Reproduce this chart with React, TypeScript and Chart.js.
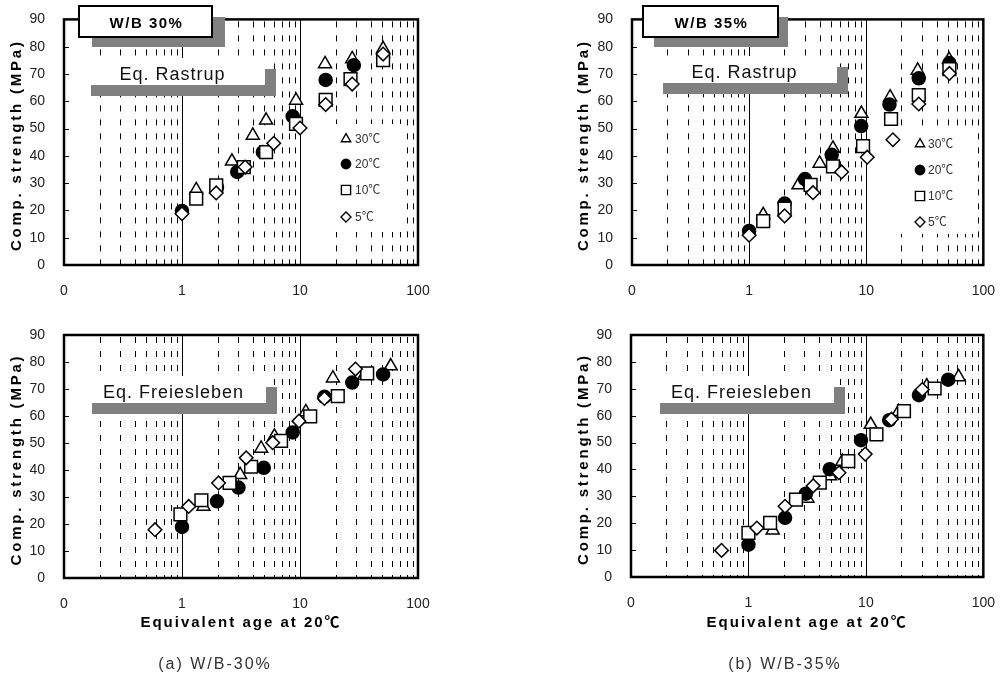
import React, { useEffect, useRef } from 'react';
import { Chart, registerables } from 'chart.js';
import { drawPoint } from 'chart.js/helpers';

Chart.register(...registerables);

const FONT = '"Liberation Sans", "Noto Sans CJK KR", "DejaVu Sans", sans-serif';

// ---------- axes ----------
const AGE_MIN = 0.1;
const AGE_MAX = 100;
const AGE_TICKS = [0.1, 1, 10, 100];
const AGE_TICK_LABELS = ['0', '1', '10', '100'];
const AGE_MINOR_LINES = [0.2, 0.3, 0.4, 0.5, 0.6, 0.7, 0.8, 0.9, 2, 3, 4, 5, 6, 7, 8, 9, 20, 30, 40, 50, 60, 70, 80, 90];
const AGE_MAJOR_LINES = [1, 10];
const STRENGTH_MIN = 0;
const STRENGTH_MAX = 90;
const STRENGTH_STEP = 10;

// ---------- texts ----------
const SERIES_LABELS = ['30℃', '20℃', '10℃', '5℃'];
const X_TITLE = 'Equivalent age at 20℃';
const Y_TITLE = 'Comp. strength (MPa)';
const WB_TAGS = ['W/B 30%', 'W/B 35%'];
const EQ_NAMES = ['Eq. Rastrup', 'Eq. Freiesleben'];
const CAPTIONS = ['(a) W/B-30%', '(b) W/B-35%'];

// ---------- data: [equivalent age, strength MPa] ----------
// W/B 30%, Rastrup
const R30_T30: [number, number][] = [[1.32, 27.5], [2.65, 38], [3.98, 47.5], [5.16, 53], [9.25, 60.3], [16.3, 73.7], [27.7, 75.5], [50.6, 79.2]];
const R30_T20: [number, number][] = [[1, 19.8], [1.98, 28.5], [2.94, 34.1], [4.84, 41.4], [8.67, 54.5], [16.5, 67.8], [28.6, 73.2], [50.6, 76]];
const R30_T10: [number, number][] = [[1.32, 24.3], [1.95, 29.2], [3.34, 35.9], [5.16, 41.4], [9.25, 51.7], [16.5, 60.5], [26.8, 68.1], [50.6, 75.1]];
const R30_T5: [number, number][] = [[1, 18.8], [1.95, 26.4], [3.43, 35.9], [5.99, 44.6], [10, 50.2], [16.5, 58.8], [27.7, 66.3], [50.6, 77.3]];
// W/B 35%, Rastrup
const R35_T30: [number, number][] = [[1.32, 18.4], [2.64, 29.3], [4.0, 37.2], [5.2, 42.7], [9.1, 55.5], [16, 61.5], [27.5, 71.3], [51, 75.3]];
const R35_T20: [number, number][] = [[1, 12.5], [2.01, 22.5], [3.0, 31.5], [5.07, 40.4], [9.06, 50.9], [15.8, 58.8], [28.1, 68.4], [51.3, 74]];
const R35_T10: [number, number][] = [[1.32, 16.1], [2.01, 20.7], [3.35, 29.4], [5.2, 36.1], [9.4, 43.6], [16.3, 53.5], [28.1, 62.3], [51.3, 71.8]];
const R35_T5: [number, number][] = [[1, 10.9], [2.01, 18], [3.51, 26.5], [6.16, 34.1], [10.2, 39.5], [16.9, 45.9], [28.1, 59], [51.3, 70.2]];
// W/B 30%, Freiesleben
const F30_T30: [number, number][] = [[1.52, 26.5], [3.11, 38.2], [4.68, 48], [6.07, 52.5], [11.2, 61.5], [19, 74], [35, 75], [58.7, 78.5]];
const F30_T20: [number, number][] = [[1, 18.9], [1.98, 28.4], [3.01, 33.5], [4.93, 40.8], [8.67, 53.9], [16.1, 67.1], [27.7, 72.4], [50.6, 75.4]];
const F30_T10: [number, number][] = [[0.97, 23.6], [1.46, 28.8], [2.53, 35.2], [3.85, 41.2], [6.91, 50.8], [12.2, 59.9], [20.9, 67.4], [37.1, 75.8]];
const F30_T5: [number, number][] = [[0.59, 17.9], [1.14, 26.5], [2.04, 35.2], [3.5, 44.5], [5.87, 50.1], [9.8, 58.1], [16.1, 66.5], [29.5, 77.4]];
// W/B 35%, Freiesleben
const F35_T30: [number, number][] = [[1.61, 17.4], [3.18, 29.2], [4.95, 37.6], [6.3, 43], [11, 56.7], [19, 61.5], [33, 71], [61.6, 74.4]];
const F35_T20: [number, number][] = [[1, 12], [2.05, 22], [3.08, 31], [4.92, 40.1], [9.08, 50.9], [15.8, 58.3], [28.3, 67.6], [50.2, 73.4]];
const F35_T10: [number, number][] = [[1.0, 16.4], [1.53, 20.1], [2.54, 28.8], [4.05, 35.1], [7.08, 43.1], [12.3, 53], [21.1, 61.7], [38.5, 70.1]];
const F35_T5: [number, number][] = [[0.59, 9.9], [1.18, 18.2], [2.05, 26.3], [3.56, 33.9], [5.9, 38.8], [9.87, 45.7], [16.5, 58.7], [30.2, 69.7]];

// ---------- styles ----------
const SERIES_STYLES = [
  { pointStyle: 'triangle', radius: 7.5, fill: '#ffffff', legendRadius: 5.4, order: 4 },
  { pointStyle: 'circle', radius: 6.5, fill: '#000000', legendRadius: 4.7, order: 3 },
  { pointStyle: 'rect', radius: 9, fill: '#ffffff', legendRadius: 6.5, order: 2 },
  { pointStyle: 'rectRot', radius: 6.8, fill: '#ffffff', legendRadius: 5, order: 1 },
];

type Rect = { l: number; t: number; r: number; b: number };
type PanelSpec = {
  key: string;
  canvas: { left: number; top: number; w: number; h: number };
  area: Rect;
  series: [number, number][][];
  eq: Rect & { text: string; tx: number; ty: number };
  wb?: Rect & { text: string; shadow: Rect; ty: number };
  legend?: { box: Rect; mx: number; tx: number; rows: number[] };
  yTitleX: number;
  xTitleY?: number;
  caption?: { text: string; x: number; y: number };
};

const PANELS: PanelSpec[] = [
  {
    key: 'p1',
    canvas: { left: 0, top: 0, w: 500, h: 312 },
    area: { l: 64, t: 18, r: 418, b: 265 },
    series: [R30_T30, R30_T20, R30_T10, R30_T5],
    eq: { text: EQ_NAMES[0], l: 80, t: 58, r: 265, b: 85, tx: 172.5, ty: 80 },
    wb: { text: WB_TAGS[0], l: 79, t: 6, r: 212, b: 37, shadow: { l: 92, t: 17, r: 225, b: 47 }, ty: 28 },
    legend: { box: { l: 330, t: 124, r: 403, b: 232 }, mx: 346, tx: 355, rows: [139, 164, 190, 217] },
    yTitleX: 17,
  },
  {
    key: 'p2',
    canvas: { left: 568, top: 0, w: 437, h: 312 },
    area: { l: 632, t: 18, r: 985, b: 265 },
    series: [R35_T30, R35_T20, R35_T10, R35_T5],
    eq: { text: EQ_NAMES[0], l: 652, t: 56, r: 837, b: 83, tx: 744.5, ty: 78 },
    wb: { text: WB_TAGS[1], l: 643, t: 6, r: 778, b: 37, shadow: { l: 654, t: 17, r: 788, b: 47 }, ty: 28 },
    legend: { box: { l: 898, t: 128, r: 974, b: 234 }, mx: 920, tx: 928, rows: [144, 170, 196, 222] },
    yTitleX: 584,
  },
  {
    key: 'p3',
    canvas: { left: 0, top: 312, w: 500, h: 362 },
    area: { l: 64, t: 335, r: 418, b: 578 },
    series: [F30_T30, F30_T20, F30_T10, F30_T5],
    eq: { text: EQ_NAMES[1], l: 81, t: 376, r: 266, b: 403, tx: 173.5, ty: 398 },
    yTitleX: 17,
    xTitleY: 627,
    caption: { text: CAPTIONS[0], x: 215, y: 669 },
  },
  {
    key: 'p4',
    canvas: { left: 568, top: 312, w: 437, h: 362 },
    area: { l: 631, t: 335, r: 986, b: 577 },
    series: [F35_T30, F35_T20, F35_T10, F35_T5],
    eq: { text: EQ_NAMES[1], l: 649, t: 376, r: 834, b: 403, tx: 741.5, ty: 398 },
    yTitleX: 584,
    xTitleY: 627,
    caption: { text: CAPTIONS[1], x: 785, y: 669 },
  },
];

function decorPlugin(spec: PanelSpec) {
  const ox = spec.canvas.left;
  const oy = spec.canvas.top;
  const X = (v: number) => v - ox;
  const Y = (v: number) => v - oy;
  return {
    id: 'decor_' + spec.key,
    beforeDatasetsDraw(chart: any) {
      const { ctx, chartArea: a, scales } = chart;
      const xs = scales.x;
      const ys = scales.y;
      ctx.save();
      // vertical grid lines
      ctx.strokeStyle = '#000';
      ctx.lineWidth = 1;
      ctx.setLineDash([6, 8]);
      for (const v of AGE_MINOR_LINES) {
        const px = Math.round(xs.getPixelForValue(v)) + 0.5;
        ctx.beginPath();
        ctx.moveTo(px, a.top + 2);
        ctx.lineTo(px, a.bottom);
        ctx.stroke();
      }
      ctx.setLineDash([]);
      for (const v of AGE_MAJOR_LINES) {
        const px = Math.round(xs.getPixelForValue(v)) + 0.5;
        ctx.beginPath();
        ctx.moveTo(px, a.top);
        ctx.lineTo(px, a.bottom);
        ctx.stroke();
      }
      // equation label box with shadow
      const e = spec.eq;
      ctx.fillStyle = '#808080';
      ctx.fillRect(X(e.l) + 11, Y(e.t) + 11, e.r - e.l, e.b - e.t);
      ctx.fillStyle = '#ffffff';
      ctx.fillRect(X(e.l), Y(e.t), e.r - e.l, e.b - e.t);
      ctx.fillStyle = '#111';
      ctx.font = `18px ${FONT}`;
      ctx.letterSpacing = '1px';
      ctx.textAlign = 'center';
      ctx.textBaseline = 'alphabetic';
      ctx.fillText(e.text, X(e.tx), Y(e.ty));
      ctx.letterSpacing = '0px';
      // legend
      if (spec.legend) {
        const lg = spec.legend;
        ctx.fillStyle = '#ffffff';
        ctx.fillRect(X(lg.box.l), Y(lg.box.t), lg.box.r - lg.box.l, lg.box.b - lg.box.t);
        SERIES_STYLES.forEach((st, i) => {
          ctx.fillStyle = st.fill;
          ctx.strokeStyle = '#000';
          ctx.lineWidth = 1.4;
          drawPoint(ctx, { pointStyle: st.pointStyle as any, radius: st.legendRadius, rotation: 0, borderWidth: 1.4 }, X(lg.mx), Y(lg.rows[i]));
          ctx.fillStyle = '#333';
          ctx.font = `12px ${FONT}`;
          ctx.textAlign = 'left';
          ctx.textBaseline = 'middle';
          ctx.fillText(SERIES_LABELS[i], X(lg.tx), Y(lg.rows[i]) + 0.5);
        });
      }
      // frame
      ctx.strokeStyle = '#000';
      ctx.lineWidth = 2.5;
      ctx.strokeRect(a.left, a.top, a.right - a.left, a.bottom - a.top);
      // inward y ticks
      ctx.lineWidth = 1;
      for (let v = STRENGTH_MIN + STRENGTH_STEP; v < STRENGTH_MAX; v += STRENGTH_STEP) {
        const py = Math.round(ys.getPixelForValue(v)) + 0.5;
        ctx.beginPath();
        ctx.moveTo(a.left, py);
        ctx.lineTo(a.left + 5, py);
        ctx.stroke();
      }
      // W/B tag box
      if (spec.wb) {
        const w = spec.wb;
        ctx.fillStyle = '#808080';
        ctx.fillRect(X(w.shadow.l), Y(w.shadow.t), w.shadow.r - w.shadow.l, w.shadow.b - w.shadow.t);
        ctx.fillStyle = '#ffffff';
        ctx.fillRect(X(w.l), Y(w.t), w.r - w.l, w.b - w.t);
        ctx.strokeStyle = '#000';
        ctx.lineWidth = 2;
        ctx.strokeRect(X(w.l), Y(w.t), w.r - w.l, w.b - w.t);
        ctx.fillStyle = '#000';
        ctx.font = `bold 15px ${FONT}`;
        ctx.letterSpacing = '1.5px';
        ctx.textAlign = 'center';
        ctx.textBaseline = 'alphabetic';
        ctx.fillText(w.text, X((w.l + w.r) / 2) + 1, Y(w.ty));
        ctx.letterSpacing = '0px';
      }
      ctx.restore();
    },
    afterDraw(chart: any) {
      const { ctx, chartArea: a } = chart;
      ctx.save();
      ctx.fillStyle = '#000';
      ctx.textAlign = 'center';
      // y title
      ctx.save();
      ctx.translate(X(spec.yTitleX), (a.top + a.bottom) / 2 + 3);
      ctx.rotate(-Math.PI / 2);
      ctx.font = `bold 15px ${FONT}`;
      ctx.letterSpacing = '2.8px';
      ctx.textBaseline = 'middle';
      ctx.fillText(Y_TITLE, 0, 0);
      ctx.restore();
      // x title
      if (spec.xTitleY) {
        ctx.font = `bold 15px ${FONT}`;
        ctx.letterSpacing = '2px';
        ctx.textBaseline = 'alphabetic';
        ctx.fillText(X_TITLE, (a.left + a.right) / 2, Y(spec.xTitleY));
      }
      if (spec.caption) {
        ctx.fillStyle = '#333';
        ctx.font = `16px ${FONT}`;
        ctx.letterSpacing = '2px';
        ctx.textBaseline = 'alphabetic';
        ctx.fillText(spec.caption.text, X(spec.caption.x), Y(spec.caption.y));
      }
      ctx.letterSpacing = '0px';
      ctx.restore();
    },
  };
}

function buildConfig(spec: PanelSpec): any {
  const yWidth = spec.area.l - spec.canvas.left;
  const padRight = spec.canvas.left + spec.canvas.w - spec.area.r;
  const padTop = spec.area.t - spec.canvas.top;
  const xHeight = spec.canvas.top + spec.canvas.h - spec.area.b;
  return {
    type: 'scatter',
    data: {
      datasets: spec.series.map((pts, i) => ({
        label: SERIES_LABELS[i],
        data: pts.map(([x, y]) => ({ x, y })),
        pointStyle: SERIES_STYLES[i].pointStyle,
        pointRadius: SERIES_STYLES[i].radius,
        pointBackgroundColor: SERIES_STYLES[i].fill,
        pointBorderColor: '#000',
        pointBorderWidth: 1.5,
        showLine: false,
        order: SERIES_STYLES[i].order,
        clip: false,
      })),
    },
    options: {
      responsive: false,
      animation: false,
      events: [],
      layout: { padding: { left: 0, right: padRight, top: padTop, bottom: 0 } },
      plugins: { legend: { display: false }, tooltip: { enabled: false }, title: { display: false } },
      scales: {
        x: {
          type: 'logarithmic',
          position: 'bottom',
          min: AGE_MIN,
          max: AGE_MAX,
          afterBuildTicks: (s: any) => {
            s.ticks = AGE_TICKS.map((v) => ({ value: v }));
          },
          afterFit: (s: any) => {
            s.height = xHeight;
          },
          ticks: {
            autoSkip: false,
            maxRotation: 0,
            padding: 10,
            color: '#222',
            font: { family: FONT, size: 14 },
            callback: (v: number) => {
              const i = AGE_TICKS.findIndex((t) => Math.abs(t - v) < 1e-9);
              return i >= 0 ? AGE_TICK_LABELS[i] : '';
            },
          },
          grid: { display: false },
          border: { display: false },
        },
        y: {
          type: 'linear',
          position: 'left',
          min: STRENGTH_MIN,
          max: STRENGTH_MAX,
          afterFit: (s: any) => {
            s.width = yWidth;
          },
          ticks: {
            stepSize: STRENGTH_STEP,
            padding: 11,
            color: '#222',
            font: { family: FONT, size: 14 },
          },
          grid: { display: false },
          border: { display: false },
        },
      },
    },
    plugins: [decorPlugin(spec)],
  };
}

function Panel({ spec }: { spec: PanelSpec }) {
  const ref = useRef<HTMLCanvasElement | null>(null);
  useEffect(() => {
    if (!ref.current) return;
    const chart = new Chart(ref.current, buildConfig(spec));
    return () => chart.destroy();
  }, [spec]);
  return (
    <canvas
      ref={ref}
      width={spec.canvas.w}
      height={spec.canvas.h}
      style={{
        position: 'absolute',
        left: spec.canvas.left,
        top: spec.canvas.top,
        width: spec.canvas.w,
        height: spec.canvas.h,
        display: 'block',
      }}
    />
  );
}

export default function App() {
  return (
    <div style={{ position: 'absolute', left: 0, top: 0, width: 1005, height: 674, background: '#ffffff', overflow: 'hidden' }}>
      {PANELS.map((p) => (
        <Panel key={p.key} spec={p} />
      ))}
    </div>
  );
}
